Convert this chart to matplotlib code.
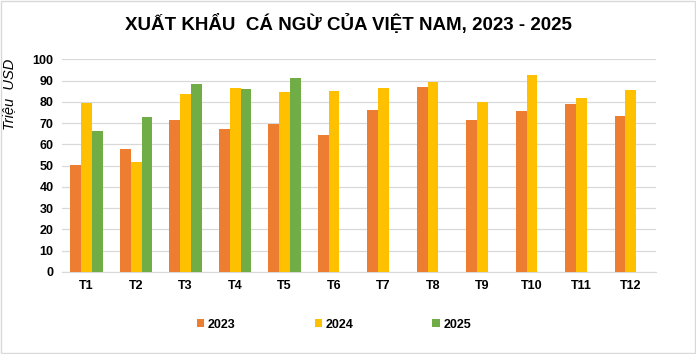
import numpy as np
import matplotlib.pyplot as plt
from matplotlib.patches import Rectangle

plt.rcParams['font.family'] = ['Liberation Sans', 'DejaVu Sans']

months = ['T1', 'T2', 'T3', 'T4', 'T5', 'T6', 'T7', 'T8', 'T9', 'T10', 'T11', 'T12']
v2023 = [50.3, 57.8, 71.5, 67.2, 69.7, 64.4, 76.2, 87.0, 71.5, 75.7, 79.2, 73.4]
v2024 = [79.5, 51.7, 83.7, 86.5, 84.6, 85.1, 86.5, 89.3, 80.1, 92.6, 81.8, 85.6]
v2025 = [66.3, 72.9, 88.6, 86.0, 91.2]
years = ['2023', '2024', '2025']
colors = ['#ED7D31', '#FFC000', '#70AD47']

series = [v2023, v2024, v2025 + [np.nan] * (len(months) - len(v2025))]

fig = plt.figure(figsize=(6.96, 3.54), dpi=100)
ax = fig.add_axes([0.089, 0.232, 0.853, 0.600])

x = np.arange(len(months))
w = 0.22
for i, (vals, yr, c) in enumerate(zip(series, years, colors)):
    ax.bar(x + (i - 1) * w, vals, w, color=c, label=yr, zorder=3)

ax.set_ylim(0, 100)
ax.set_xlim(-0.5, len(months) - 0.5)
ax.set_yticks(range(0, 101, 10))
ax.set_xticks(x)
ax.set_xticklabels(months)
ax.grid(axis='y', color='#D9D9D9', linewidth=0.9, zorder=0)
for s in ['top', 'right', 'left']:
    ax.spines[s].set_visible(False)
ax.spines['bottom'].set_color('#D9D9D9')
ax.tick_params(length=0, labelsize=9, pad=6)
for lbl in ax.get_xticklabels() + ax.get_yticklabels():
    lbl.set_fontweight('bold')
ax.set_ylabel('Triệu  USD', fontsize=10.5, style='italic')
ax.yaxis.set_label_coords(-0.078, 0.835)

fig.suptitle('XUẤT KHẨU  CÁ NGỪ CỦA VIỆT NAM, 2023 - 2025', fontsize=13.5,
             fontweight='bold', y=0.96)

leg = fig.legend(loc='center', bbox_to_anchor=(0.48, 0.083), ncol=3, frameon=False,
                 handlelength=0.6, handleheight=0.6, handletextpad=0.3,
                 columnspacing=6.3, prop={'size': 9, 'weight': 'bold'})

fig.patches.append(Rectangle((0.002, 0.003), 0.996, 0.994, transform=fig.transFigure,
                             fill=False, edgecolor='#D9D9D9', linewidth=1))

fig.savefig('out.png', dpi=100)
